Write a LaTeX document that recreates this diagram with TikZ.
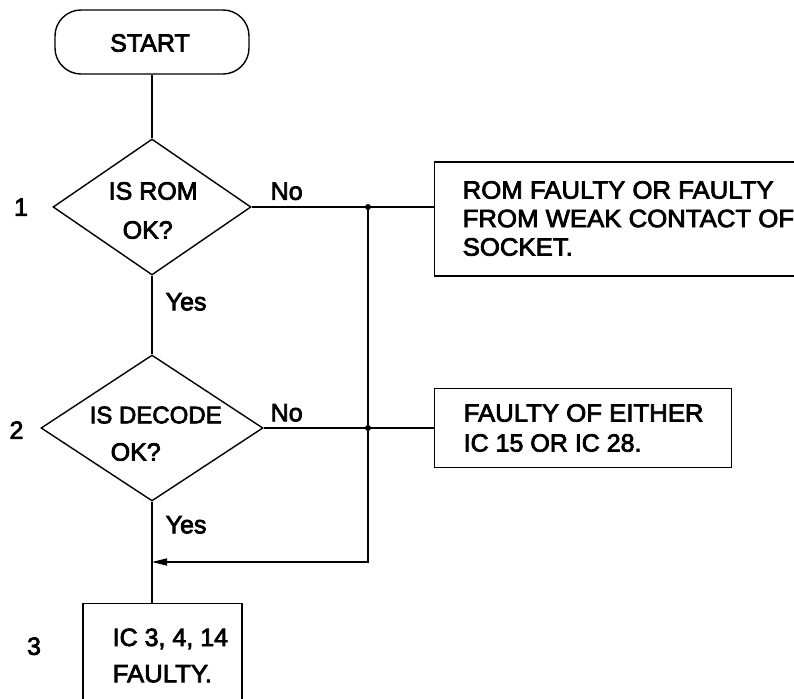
\documentclass[tikz,border=0pt]{standalone}
\usepackage{fontspec}
\newfontfamily\mfont{Liberation Sans}[RawFeature={embolden=3}]
\newfontfamily\wfont{Liberation Sans}[RawFeature={embolden=3},FakeStretch=1.03]
\usetikzlibrary{shapes.geometric,arrows.meta}
\begin{document}
\begin{tikzpicture}[x=1pt,y=-1pt,
  line width=1.4pt,
  every node/.style={inner sep=0pt},
  shapebox/.style={draw, rectangle},
  dia/.style={draw, diamond, inner sep=0pt},
  lbl/.style={anchor=base west, font=\mfont\fontsize{25}{29}\selectfont},
  sl/.style={anchor=base west, font=\mfont\fontsize{24}{29}\selectfont},
  wl/.style={anchor=base west, font=\wfont\fontsize{25}{29}\selectfont},
  dot/.style={circle, fill, minimum size=6pt}]
\useasboundingbox (0,0) rectangle (794,698);
\clip (0,0) rectangle (794,698);

% shapes
\node[draw, rounded corners=26pt, minimum width=194pt, minimum height=64pt] (start) at (152,42) {};
\node[dia, minimum width=198pt, minimum height=136pt] (d1) at (152,207) {};
\node[dia, minimum width=222pt, minimum height=146pt] (d2) at (152,428) {};
\node[shapebox, anchor=west, minimum width=390pt, minimum height=114pt] (b1) at (434,219) {};
\node[shapebox, anchor=west, minimum width=297pt, minimum height=79pt] (b2) at (434,428) {};
\node[shapebox, anchor=north, minimum width=159pt, minimum height=120pt] (b3) at (162.5,603) {};

% texts
\node[lbl, anchor=base] (tstart) at (150,51.6) {START};
\node[lbl] (td1a) at (108,199.6) {IS ROM};
\node[lbl] (td1b) at (122,238.6) {OK?};
\node[sl] (td2a) at (89,423.3) {IS DECODE};
\node[lbl] (td2b) at (110,460.6) {OK?};
\node[wl] (tb1a) at (462,198.6) {ROM FAULTY OR FAULTY};
\node[wl] (tb1b) at (462,227.1) {FROM WEAK CONTACT OF};
\node[wl] (tb1c) at (462,255.6) {SOCKET.};
\node[wl] (tb2a) at (463,421.6) {FAULTY OF EITHER};
\node[lbl] (tb2b) at (463,451.6) {IC 15 OR IC 28.};
\node[lbl] (tb3a) at (112,646) {IC 3, 4, 14};
\node[wl] (tb3b) at (112,682.3) {FAULTY.};
\node[lbl] (no1) at (270,199.8) {No};
\node[lbl] (no2) at (270,421.3) {No};
\node[lbl] (yes1) at (165,310.3) {Yes};
\node[lbl] (yes2) at (165,533.3) {Yes};
\node[lbl, anchor=base] (n1) at (21,215.8) {1};
\node[lbl, anchor=base] (n2) at (16.5,438.8) {2};
\node[lbl, anchor=base] (n3) at (34,654.8) {3};

% connectors
\coordinate (j1) at (368,207);
\coordinate (j2) at (368,428);
\coordinate (c) at (368,562);
\draw (start.south) -- (d1.north);
\draw (d1.south) -- (d2.north);
\draw (d2.south) -- (d2.south |- b3.north);
\draw (d1.east) -- (d1.east -| b1.west);
\draw (d2.east) -- (d2.east -| b2.west);
\draw[-{Triangle[length=15pt,width=7pt]}] (j1) -- (c) -- (c -| d2.south);
\node[dot] (dot1) at (j1) {};
\node[dot] (dot2) at (j2) {};
\end{tikzpicture}
\end{document}
